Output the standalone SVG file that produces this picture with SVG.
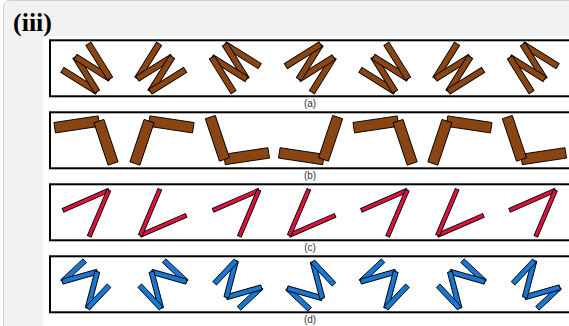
<svg xmlns="http://www.w3.org/2000/svg" xmlns:xlink="http://www.w3.org/1999/xlink" width="569" height="326" viewBox="0 0 569 326">
<style>
.frame{fill:none;stroke:#000;stroke-width:2}
.lbl{font-family:"Liberation Sans",Arial,sans-serif;font-size:10px;fill:#333;text-anchor:middle}
.bars rect{stroke:#000;stroke-width:0.9}
.brown rect{fill:#8B4513}
.red rect{fill:#DC143C}
.blue rect{fill:#1976D2}
</style>
<defs>
<g id="ga" class="bars brown">
<rect x="0" y="-3" width="41" height="6" transform="translate(-19.97,18.45) rotate(-13)"/>
<rect x="0" y="-3" width="41" height="6" transform="translate(19.97,9.22) rotate(193)"/>
<rect x="0" y="-3" width="41" height="6" transform="translate(-19.97,0) rotate(-13)"/>
<rect x="0" y="-3" width="41" height="6" transform="translate(19.97,-9.22) rotate(193)"/>
</g>
<g id="gb" class="bars brown">
<rect x="0" y="-5.25" width="44.7" height="10.5" transform="rotate(50)"/>
<rect x="0" y="-5.25" width="44.7" height="10.5" transform="rotate(-50)"/>
</g>
<g id="gc" class="bars red">
<rect x="0" y="-2" width="50" height="4" transform="rotate(21.75)"/>
<rect x="0" y="-2" width="50" height="4" transform="rotate(-21.75)"/>
</g>
<g id="gd" class="bars blue">
<rect x="0" y="-2.5" width="30.7" height="5" transform="translate(84.7,260.7) rotate(136.8)"/>
<rect x="0" y="-2.5" width="36.4" height="5" transform="translate(62.3,281.7) rotate(-15.9)"/>
<rect x="0" y="-2.5" width="37.8" height="5" transform="translate(97.3,271.7) rotate(104.7)"/>
<rect x="0" y="-2.5" width="31.1" height="5" transform="translate(87.7,308.3) rotate(-46.7)"/>
</g>
</defs>
<g id="background">
<rect x="3.5" y="0.5" width="620" height="400" rx="6" fill="#f2f2f2" stroke="#cfcfcf"/>
<rect x="43" y="36" width="540" height="300" fill="#fff"/>
<text x="13" y="31" font-family="'Liberation Serif','Times New Roman',serif" font-weight="bold" font-size="26" fill="#000">(iii)</text>
</g>
<g id="panel-a">
<rect class="frame" x="50" y="40.3" width="525" height="56"/>
<g id="a1"><use xlink:href="#ga" transform="translate(89.5,71) rotate(45)"/></g>
<g id="a2"><use xlink:href="#ga" transform="translate(158,71) rotate(135)"/></g>
<g id="a3"><use xlink:href="#ga" transform="translate(232.5,65) rotate(225)"/></g>
<g id="a4"><use xlink:href="#ga" transform="translate(313,65) rotate(315)"/></g>
<g id="a5"><use xlink:href="#ga" transform="translate(387.5,71) rotate(45)"/></g>
<g id="a6"><use xlink:href="#ga" transform="translate(456,71) rotate(135)"/></g>
<g id="a7"><use xlink:href="#ga" transform="translate(530.5,65) rotate(225)"/></g>
<text class="lbl" x="310" y="106.5">(a)</text>
</g>
<g id="panel-b">
<rect class="frame" x="50" y="112.3" width="525" height="56"/>
<g id="b1"><use xlink:href="#gb" transform="translate(98.9,121.1) rotate(121.5)"/></g>
<g id="b2"><use xlink:href="#gb" transform="translate(149.1,121.1) scale(-1,1) rotate(121.5)"/></g>
<g id="b3"><use xlink:href="#gb" transform="translate(224.5,159.5) rotate(301.5)"/></g>
<g id="b4"><use xlink:href="#gb" transform="translate(323.5,159.5) scale(-1,1) rotate(301.5)"/></g>
<g id="b5"><use xlink:href="#gb" transform="translate(398,121.1) rotate(121.5)"/></g>
<g id="b6"><use xlink:href="#gb" transform="translate(447,121.1) scale(-1,1) rotate(121.5)"/></g>
<g id="b7"><use xlink:href="#gb" transform="translate(521.5,159.5) rotate(301.5)"/></g>
<text class="lbl" x="310" y="178.5">(b)</text>
</g>
<g id="panel-c">
<rect class="frame" x="50" y="184.3" width="525" height="56"/>
<g id="c1"><use xlink:href="#gc" transform="translate(108.8,190.3) rotate(134.75)"/></g>
<g id="c2"><use xlink:href="#gc" transform="translate(140.3,235.3) rotate(314.75)"/></g>
<g id="c3"><use xlink:href="#gc" transform="translate(258.9,190.3) rotate(134.75)"/></g>
<g id="c4"><use xlink:href="#gc" transform="translate(289.3,235.3) rotate(314.75)"/></g>
<g id="c5"><use xlink:href="#gc" transform="translate(407.2,190.3) rotate(134.75)"/></g>
<g id="c6"><use xlink:href="#gc" transform="translate(437.6,235.3) rotate(314.75)"/></g>
<g id="c7"><use xlink:href="#gc" transform="translate(555.4,190.3) rotate(134.75)"/></g>
<text class="lbl" x="310" y="250.5">(c)</text>
</g>
<g id="panel-d">
<rect class="frame" x="50" y="256.3" width="525" height="56"/>
<g id="d1"><use xlink:href="#gd"/></g>
<g id="d2"><use xlink:href="#gd" transform="translate(248.8,0) scale(-1,1)"/></g>
<g id="d3"><use xlink:href="#gd" transform="translate(323.7,569) rotate(180)"/></g>
<g id="d4"><use xlink:href="#gd" transform="translate(225,570) scale(1,-1)"/></g>
<g id="d5"><use xlink:href="#gd" transform="translate(298.4,0)"/></g>
<g id="d6"><use xlink:href="#gd" transform="translate(547.2,0) scale(-1,1)"/></g>
<g id="d7"><use xlink:href="#gd" transform="translate(622.1,569) rotate(180)"/></g>
<text class="lbl" x="310" y="322.5">(d)</text>
</g>
</svg>
